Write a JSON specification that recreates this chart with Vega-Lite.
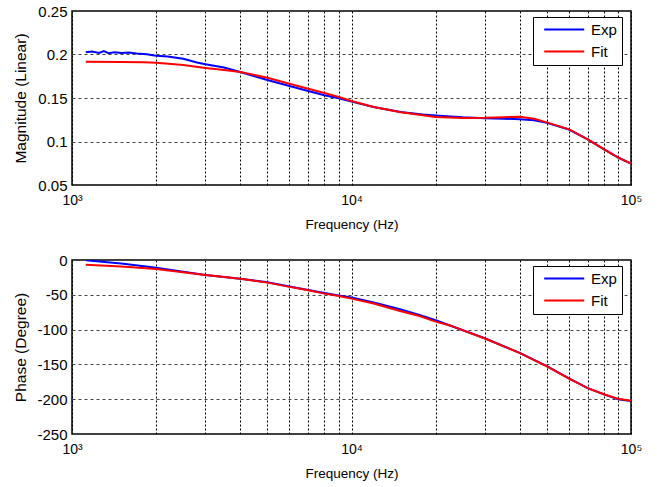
{
  "$schema": "https://vega.github.io/schema/vega-lite/v6.json",
  "padding": {"left": 12, "top": 3, "right": 5, "bottom": 5},
  "background": "white",
  "bounds": "flush",
  "spacing": 75,
  "config": {
    "font": "Liberation Sans",
    "view": {"stroke": "black", "strokeWidth": 1.5},
    "axis": {
      "domain": false,
      "ticks": false,
      "grid": true,
      "gridColor": "black",
      "gridOpacity": 1,
      "gridWidth": 1,
      "labelColor": "black",
      "titleColor": "black",
      "labelFontSize": 14,
      "titleFontWeight": "normal",
      "labelFont": "Liberation Sans",
      "titleFont": "Liberation Sans"
    },
    "axisY": {"minExtent": 37, "maxExtent": 37, "labelFontSize": 15},
    "legend": {
      "orient": "none",
      "legendX": 461,
      "legendY": 6,
      "symbolType": "M-0.26,0L7.74,0",
      "symbolSize": 100,
      "symbolStrokeWidth": 2,
      "labelFontSize": 15,
      "labelColor": "black",
      "fillColor": "white",
      "strokeColor": "black",
      "padding": 5,
      "rowPadding": 6,
      "labelOffset": 38
    }
  },
  "datasets": {
    "mag": [
      {"f": 1120, "series": "Exp", "v": 0.2025},
      {"f": 1180, "series": "Exp", "v": 0.2035},
      {"f": 1250, "series": "Exp", "v": 0.2018},
      {"f": 1300, "series": "Exp", "v": 0.2040},
      {"f": 1350, "series": "Exp", "v": 0.2015},
      {"f": 1420, "series": "Exp", "v": 0.2026},
      {"f": 1500, "series": "Exp", "v": 0.2016},
      {"f": 1600, "series": "Exp", "v": 0.2024},
      {"f": 1700, "series": "Exp", "v": 0.2012},
      {"f": 1850, "series": "Exp", "v": 0.2003},
      {"f": 2000, "series": "Exp", "v": 0.1985},
      {"f": 2200, "series": "Exp", "v": 0.1978},
      {"f": 2500, "series": "Exp", "v": 0.1950},
      {"f": 2800, "series": "Exp", "v": 0.1908},
      {"f": 3000, "series": "Exp", "v": 0.1887},
      {"f": 3500, "series": "Exp", "v": 0.1850},
      {"f": 4000, "series": "Exp", "v": 0.1799},
      {"f": 4500, "series": "Exp", "v": 0.1750},
      {"f": 5000, "series": "Exp", "v": 0.1707},
      {"f": 6000, "series": "Exp", "v": 0.1638},
      {"f": 7000, "series": "Exp", "v": 0.1580},
      {"f": 8000, "series": "Exp", "v": 0.1531},
      {"f": 9000, "series": "Exp", "v": 0.1497},
      {"f": 10000, "series": "Exp", "v": 0.1458},
      {"f": 12000, "series": "Exp", "v": 0.1397},
      {"f": 15000, "series": "Exp", "v": 0.1339},
      {"f": 18000, "series": "Exp", "v": 0.1310},
      {"f": 20000, "series": "Exp", "v": 0.1300},
      {"f": 25000, "series": "Exp", "v": 0.1278},
      {"f": 30000, "series": "Exp", "v": 0.1267},
      {"f": 35000, "series": "Exp", "v": 0.1262},
      {"f": 40000, "series": "Exp", "v": 0.1255},
      {"f": 45000, "series": "Exp", "v": 0.1245},
      {"f": 50000, "series": "Exp", "v": 0.1214},
      {"f": 60000, "series": "Exp", "v": 0.1138},
      {"f": 70000, "series": "Exp", "v": 0.1025},
      {"f": 80000, "series": "Exp", "v": 0.0912},
      {"f": 90000, "series": "Exp", "v": 0.0816},
      {"f": 100000, "series": "Exp", "v": 0.0747},
      {"f": 1120, "series": "Fit", "v": 0.1917},
      {"f": 1500, "series": "Fit", "v": 0.1915},
      {"f": 1800, "series": "Fit", "v": 0.1910},
      {"f": 2000, "series": "Fit", "v": 0.1906},
      {"f": 2500, "series": "Fit", "v": 0.1878},
      {"f": 3000, "series": "Fit", "v": 0.1845},
      {"f": 3500, "series": "Fit", "v": 0.1822},
      {"f": 4000, "series": "Fit", "v": 0.1799},
      {"f": 5000, "series": "Fit", "v": 0.1733},
      {"f": 6000, "series": "Fit", "v": 0.1664},
      {"f": 7000, "series": "Fit", "v": 0.1607},
      {"f": 8000, "series": "Fit", "v": 0.1557},
      {"f": 9000, "series": "Fit", "v": 0.1511},
      {"f": 10000, "series": "Fit", "v": 0.1465},
      {"f": 12000, "series": "Fit", "v": 0.1397},
      {"f": 15000, "series": "Fit", "v": 0.1335},
      {"f": 20000, "series": "Fit", "v": 0.1282},
      {"f": 25000, "series": "Fit", "v": 0.1270},
      {"f": 30000, "series": "Fit", "v": 0.1272},
      {"f": 35000, "series": "Fit", "v": 0.1280},
      {"f": 40000, "series": "Fit", "v": 0.1285},
      {"f": 45000, "series": "Fit", "v": 0.1262},
      {"f": 50000, "series": "Fit", "v": 0.1220},
      {"f": 60000, "series": "Fit", "v": 0.1140},
      {"f": 70000, "series": "Fit", "v": 0.1025},
      {"f": 80000, "series": "Fit", "v": 0.0910},
      {"f": 90000, "series": "Fit", "v": 0.0814},
      {"f": 100000, "series": "Fit", "v": 0.0745}
    ],
    "phase": [
      {"f": 1120, "series": "Exp", "v": -0.5},
      {"f": 1500, "series": "Exp", "v": -5},
      {"f": 2000, "series": "Exp", "v": -11},
      {"f": 3000, "series": "Exp", "v": -21.5},
      {"f": 4000, "series": "Exp", "v": -27},
      {"f": 5000, "series": "Exp", "v": -32},
      {"f": 6000, "series": "Exp", "v": -38},
      {"f": 7000, "series": "Exp", "v": -43},
      {"f": 8000, "series": "Exp", "v": -47.5},
      {"f": 9000, "series": "Exp", "v": -51},
      {"f": 10000, "series": "Exp", "v": -54},
      {"f": 12000, "series": "Exp", "v": -61},
      {"f": 14800, "series": "Exp", "v": -70.5},
      {"f": 17500, "series": "Exp", "v": -79},
      {"f": 20000, "series": "Exp", "v": -86.5},
      {"f": 24500, "series": "Exp", "v": -99.5},
      {"f": 30000, "series": "Exp", "v": -112.5},
      {"f": 40000, "series": "Exp", "v": -133.5},
      {"f": 50000, "series": "Exp", "v": -152.5},
      {"f": 60000, "series": "Exp", "v": -170},
      {"f": 70000, "series": "Exp", "v": -184},
      {"f": 80000, "series": "Exp", "v": -193},
      {"f": 90000, "series": "Exp", "v": -200},
      {"f": 100000, "series": "Exp", "v": -202.5},
      {"f": 1120, "series": "Fit", "v": -7},
      {"f": 1500, "series": "Fit", "v": -9.5},
      {"f": 2000, "series": "Fit", "v": -13},
      {"f": 3000, "series": "Fit", "v": -21.7},
      {"f": 4000, "series": "Fit", "v": -26.8},
      {"f": 5000, "series": "Fit", "v": -32.5},
      {"f": 6000, "series": "Fit", "v": -38.6},
      {"f": 7000, "series": "Fit", "v": -43.5},
      {"f": 8000, "series": "Fit", "v": -48.3},
      {"f": 9000, "series": "Fit", "v": -51.8},
      {"f": 10000, "series": "Fit", "v": -55.5},
      {"f": 12000, "series": "Fit", "v": -62.5},
      {"f": 14800, "series": "Fit", "v": -73},
      {"f": 17500, "series": "Fit", "v": -80.5},
      {"f": 20000, "series": "Fit", "v": -88.5},
      {"f": 22500, "series": "Fit", "v": -94},
      {"f": 24500, "series": "Fit", "v": -99.7},
      {"f": 30000, "series": "Fit", "v": -112.8},
      {"f": 40000, "series": "Fit", "v": -133.7},
      {"f": 50000, "series": "Fit", "v": -152.7},
      {"f": 60000, "series": "Fit", "v": -170.3},
      {"f": 70000, "series": "Fit", "v": -184},
      {"f": 80000, "series": "Fit", "v": -192.8},
      {"f": 90000, "series": "Fit", "v": -199.5},
      {"f": 100000, "series": "Fit", "v": -202.3}
    ]
  },
  "vconcat": [
    {
      "width": 559,
      "height": 174,
      "data": {"name": "mag"},
      "mark": {"type": "line", "strokeWidth": 2, "clip": true},
      "encoding": {
        "x": {
          "field": "f",
          "type": "quantitative",
          "scale": {"type": "log", "domain": [1000, 100000], "nice": false},
          "axis": {
            "title": "Frequency (Hz)",
            "titleFontSize": 13.5,
            "titlePadding": 10,
            "labelPadding": 8,
            "labelFlush": false,
            "labelOverlap": false,
            "values": [1000, 2000, 3000, 4000, 5000, 6000, 7000, 8000, 9000, 10000, 20000, 30000, 40000, 50000, 60000, 70000, 80000, 90000, 100000],
            "labelExpr": "datum.value == 1000 ? '10³' : datum.value == 10000 ? '10⁴' : datum.value == 100000 ? '10⁵' : ''",
            "gridDash": [2, 2]
          }
        },
        "y": {
          "field": "v",
          "type": "quantitative",
          "scale": {"domain": [0.05, 0.25], "nice": false, "zero": false},
          "axis": {
            "title": "Magnitude (Linear)",
            "titleFontSize": 15.5,
            "titlePadding": 7,
            "labelPadding": 5,
            "values": [0.05, 0.1, 0.15, 0.2, 0.25],
            "labelExpr": "'' + datum.value",
            "gridDash": [3, 3],
            "gridColor": "#444444"
          }
        },
        "color": {
          "field": "series",
          "type": "nominal",
          "scale": {"domain": ["Exp", "Fit"], "range": ["#0000ff", "#ff0000"]},
          "legend": {"title": null}
        }
      }
    },
    {
      "width": 559,
      "height": 174,
      "data": {"name": "phase"},
      "mark": {"type": "line", "strokeWidth": 2, "clip": true},
      "encoding": {
        "x": {
          "field": "f",
          "type": "quantitative",
          "scale": {"type": "log", "domain": [1000, 100000], "nice": false},
          "axis": {
            "title": "Frequency (Hz)",
            "titleFontSize": 13.5,
            "titlePadding": 10,
            "labelPadding": 8,
            "labelFlush": false,
            "labelOverlap": false,
            "values": [1000, 2000, 3000, 4000, 5000, 6000, 7000, 8000, 9000, 10000, 20000, 30000, 40000, 50000, 60000, 70000, 80000, 90000, 100000],
            "labelExpr": "datum.value == 1000 ? '10³' : datum.value == 10000 ? '10⁴' : datum.value == 100000 ? '10⁵' : ''",
            "gridDash": [2, 2]
          }
        },
        "y": {
          "field": "v",
          "type": "quantitative",
          "scale": {"domain": [-250, 0], "nice": false, "zero": false},
          "axis": {
            "title": "Phase (Degree)",
            "titleFontSize": 15.5,
            "titlePadding": 7,
            "labelPadding": 5,
            "values": [-250, -200, -150, -100, -50, 0],
            "labelExpr": "'' + datum.value",
            "gridDash": [3, 3],
            "gridColor": "#444444"
          }
        },
        "color": {
          "field": "series",
          "type": "nominal",
          "scale": {"domain": ["Exp", "Fit"], "range": ["#0000ff", "#ff0000"]},
          "legend": {"title": null}
        }
      }
    }
  ],
  "resolve": {"scale": {"color": "independent"}, "legend": {"color": "independent"}}
}
